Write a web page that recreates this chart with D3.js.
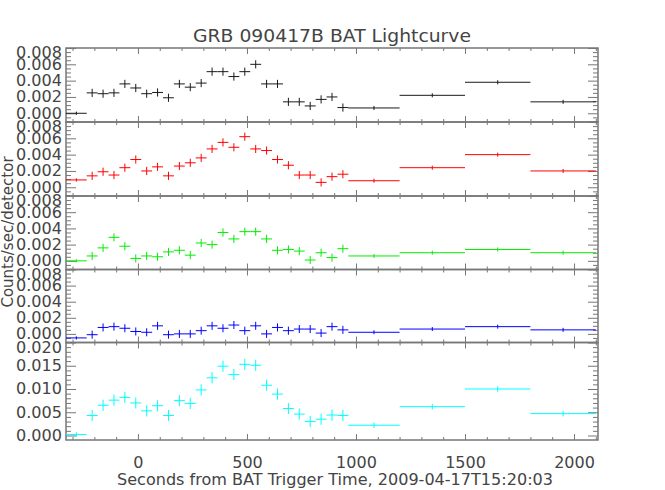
<!DOCTYPE html>
<html>
<head>
<meta charset="utf-8">
<script src="https://cdn.jsdelivr.net/npm/d3@7"></script>
<style>
  html, body { margin: 0; padding: 0; background: #fff; }
  svg { display: block; }
</style>
</head>
<body>
<script>
// ---------------- DATA ----------------
const title = "GRB 090417B BAT Lightcurve";
const xLabel = "Seconds from BAT Trigger Time, 2009-04-17T15:20:03";
const yLabel = "Counts/sec/detector";

// bin centres (s) and half-widths (s)
const binCenter = [-282.5, -210, -160, -110, -60, -10, 40, 90, 140, 190, 240, 290, 340,
  390, 440, 490, 540, 590, 640, 690, 740, 790, 840, 890, 940, 1082.5, 1350, 1650, 1950];
const binHalf = [47.5, 25, 25, 25, 25, 25, 25, 25, 25, 25, 25, 25, 25,
  25, 25, 25, 25, 25, 25, 25, 25, 25, 25, 25, 25, 117.5, 150, 150, 150];

// count rates per energy band
const rate1 = [0.0000, 0.0025, 0.0024, 0.0025, 0.0036, 0.0031, 0.0024, 0.00255, 0.0019, 0.0036, 0.0032, 0.0037, 0.0051,
  0.0051, 0.0045, 0.0051, 0.0060, 0.0036, 0.0036, 0.0014, 0.0014, 0.0009, 0.0017, 0.0020, 0.0007, 0.00065, 0.0022, 0.0038, 0.0014];
const rate2 = [0.0009, 0.0014, 0.0019, 0.0015, 0.0024, 0.0034, 0.0020, 0.0025, 0.0014, 0.0026, 0.0030, 0.0036, 0.0047,
  0.0055, 0.0049, 0.0062, 0.0047, 0.0045, 0.0034, 0.0027, 0.0015, 0.0015, 0.0006, 0.0013, 0.0016, 0.0008, 0.0024, 0.0040, 0.0020];
const rate3 = [0.0000, 0.0006, 0.0016, 0.0029, 0.0018, 0.0003, 0.0006, 0.0005, 0.0011, 0.0013, 0.0007, 0.0022, 0.0020,
  0.0035, 0.0027, 0.0036, 0.0036, 0.0027, 0.0013, 0.0014, 0.0012, 0.0001, 0.0010, 0.0004, 0.0015, 0.0006, 0.0010, 0.0014, 0.0010];
const rate4 = [-0.0005, -0.0001, 0.0008, 0.0009, 0.0007, 0.0003, 0.0002, 0.0010, -0.0001, 0.0000, 0.0000, 0.0004, 0.0010,
  0.0007, 0.0011, 0.0004, 0.0010, 0.0000, 0.0008, 0.0004, 0.0006, 0.0006, 0.0001, 0.0009, 0.0005, 0.0002, 0.0006, 0.0009, 0.0005];
const rate5 = [0.0002, 0.0043, 0.0065, 0.0076, 0.0082, 0.0070, 0.0053, 0.0064, 0.0043, 0.0075, 0.0069, 0.0098, 0.0124,
  0.0149, 0.0131, 0.0153, 0.0151, 0.0108, 0.0089, 0.0058, 0.0046, 0.0030, 0.0035, 0.0044, 0.0043, 0.0022, 0.0062, 0.0100, 0.0047];

// 1-sigma errors
const errBand = [0.0002, 0.0005, 0.0005, 0.0005, 0.0005, 0.0005, 0.0005, 0.0005, 0.0005, 0.0005, 0.0005, 0.0005, 0.0005,
  0.0005, 0.0005, 0.0005, 0.0005, 0.0005, 0.0005, 0.0005, 0.0005, 0.0005, 0.0005, 0.0005, 0.0005, 0.00025, 0.00025, 0.00025, 0.00025];
const errTotal = [0.0005, 0.0012, 0.0012, 0.0012, 0.0012, 0.0012, 0.0012, 0.0012, 0.0012, 0.0012, 0.0012, 0.0012, 0.0012,
  0.0012, 0.0012, 0.0012, 0.0012, 0.0012, 0.0012, 0.0012, 0.0012, 0.0012, 0.0012, 0.0012, 0.0012, 0.0006, 0.0006, 0.0006, 0.0006];

// tick labels
const xTicks = [0, 500, 1000, 1500, 2000];
const yTicksBand = [0.000, 0.002, 0.004, 0.006, 0.008];
const yTicksTotal = [0.000, 0.005, 0.010, 0.015, 0.020];

const colors = ["#1a1a1a", "#ff0000", "#00ee00", "#0000ff", "#00ffff"];

// ---------------- LAYOUT ----------------
const W = 665, H = 490;
const left = 66, right = 598;
const panelTop = [48, 122, 196, 269.5, 342.5];
const panelBot = [122, 196, 269.5, 342.5, 440];

const panels = [
  { rate: rate1, err: errBand, ticks: yTicksBand, dom: [-0.00107, 0.008], minorStep: 0.0005 },
  { rate: rate2, err: errBand, ticks: yTicksBand, dom: [-0.00107, 0.008], minorStep: 0.0005 },
  { rate: rate3, err: errBand, ticks: yTicksBand, dom: [-0.00107, 0.008], minorStep: 0.0005 },
  { rate: rate4, err: errBand, ticks: yTicksBand, dom: [-0.00107, 0.008], minorStep: 0.0005 },
  { rate: rate5, err: errTotal, ticks: yTicksTotal, dom: [-0.00097, 0.020], minorStep: 0.001 }
];

const svg = d3.select("body").append("svg").attr("width", W).attr("height", H);
svg.append("rect").attr("width", W).attr("height", H).attr("fill", "#fff");

const FONT = "DejaVu Sans, sans-serif";
const TXT = "#444";
const AX = "#777";

const x = d3.scaleLinear().domain([-330, 2110]).range([left, right]);
const xMinor = d3.range(-300, 2101, 100).filter(v => !xTicks.includes(v));

// title
svg.append("text").attr("x", 332).attr("y", 42).attr("text-anchor", "middle")
  .attr("font-family", FONT).attr("font-size", 18).attr("fill", TXT)
  .attr("textLength", 278).attr("lengthAdjust", "spacingAndGlyphs").text(title);

// x label
svg.append("text").attr("x", 335).attr("y", 485).attr("text-anchor", "middle")
  .attr("font-family", FONT).attr("font-size", 15).attr("fill", TXT)
  .attr("textLength", 436).attr("lengthAdjust", "spacingAndGlyphs").text(xLabel);

// y label
svg.append("text").attr("transform", "translate(13,232) rotate(-90)").attr("text-anchor", "middle")
  .attr("font-family", FONT).attr("font-size", 15).attr("fill", TXT).text(yLabel);

function styleAxis(g, fs) {
  g.select(".domain").remove();
  g.selectAll("line").attr("stroke", AX).attr("stroke-width", 1);
  g.selectAll("text").attr("font-family", FONT).attr("font-size", fs || 15).attr("fill", TXT);
  g.attr("font-family", null).attr("font-size", null);
}

panels.forEach((p, i) => {
  const top = panelTop[i], bot = panelBot[i];
  const y = d3.scaleLinear().domain(p.dom).range([bot, top]);
  const yMinor = d3.range(Math.ceil(p.dom[0] / p.minorStep) * p.minorStep, p.dom[1] + 1e-9, p.minorStep)
    .filter(v => !p.ticks.some(t => Math.abs(t - v) < 1e-9));
  const g = svg.append("g");

  // y axes (left with labels, right ticks only)
  const yl = g.append("g").attr("transform", `translate(${left},0)`)
    .call(d3.axisLeft(y).tickValues(p.ticks).tickSize(-10).tickSizeOuter(0).tickPadding(4)
      .tickFormat(d3.format(".3f")));
  styleAxis(yl, 15);
  yl.selectAll("text").attr("textLength", 46).attr("lengthAdjust", "spacingAndGlyphs");
  // keep the top label inside the panel as in the reference
  yl.selectAll(".tick").each(function (d) {
    if (y(d) < top + 5) d3.select(this).select("text").attr("y", top + 5 - y(d));
  });
  styleAxis(g.append("g").attr("transform", `translate(${left},0)`)
    .call(d3.axisLeft(y).tickValues(yMinor).tickSize(-5).tickSizeOuter(0).tickFormat("")));
  styleAxis(g.append("g").attr("transform", `translate(${right},0)`)
    .call(d3.axisRight(y).tickValues(p.ticks).tickSize(-10).tickSizeOuter(0).tickFormat("")));
  styleAxis(g.append("g").attr("transform", `translate(${right},0)`)
    .call(d3.axisRight(y).tickValues(yMinor).tickSize(-5).tickSizeOuter(0).tickFormat("")));

  // x axes top and bottom
  styleAxis(g.append("g").attr("transform", `translate(0,${top})`)
    .call(d3.axisTop(x).tickValues(xTicks).tickSize(-6).tickSizeOuter(0).tickFormat("")));
  styleAxis(g.append("g").attr("transform", `translate(0,${top})`)
    .call(d3.axisTop(x).tickValues(xMinor).tickSize(-3).tickSizeOuter(0).tickFormat("")));
  const xb = g.append("g").attr("transform", `translate(0,${bot})`)
    .call(d3.axisBottom(x).tickValues(xTicks).tickSize(-6).tickSizeOuter(0).tickPadding(17)
      .tickFormat(i === 4 ? d3.format("d") : ""));
  styleAxis(xb, 16);
  styleAxis(g.append("g").attr("transform", `translate(0,${bot})`)
    .call(d3.axisBottom(x).tickValues(xMinor).tickSize(-3).tickSizeOuter(0).tickFormat("")));

  // box
  g.append("rect").attr("x", left).attr("y", top).attr("width", right - left).attr("height", bot - top)
    .attr("fill", "none").attr("stroke", AX).attr("stroke-width", 1.5);

  // data crosses
  const data = binCenter.map((c, k) => ({ c, h: binHalf[k], v: p.rate[k], e: p.err[k] }));
  const marks = g.append("g").attr("stroke", colors[i]).attr("stroke-width", 1);
  marks.selectAll("line.h").data(data).join("line").attr("class", "h")
    .attr("x1", d => x(d.c - d.h)).attr("x2", d => x(d.c + d.h))
    .attr("y1", d => y(d.v)).attr("y2", d => y(d.v));
  marks.selectAll("line.v").data(data).join("line").attr("class", "v")
    .attr("x1", d => x(d.c)).attr("x2", d => x(d.c))
    .attr("y1", d => y(d.v - d.e)).attr("y2", d => y(d.v + d.e));
});
</script>
</body>
</html>
